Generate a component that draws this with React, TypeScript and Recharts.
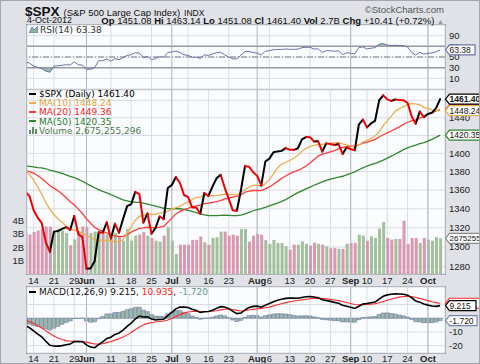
import React from "react";
import {
  Area,
  Bar,
  CartesianGrid,
  Cell,
  ComposedChart,
  Line,
  ReferenceLine,
  XAxis,
  YAxis,
} from "recharts";

// trading days shown, May 10 .. Oct 4 2012
const days = [
  "5/10", "5/11", "5/14", "5/15", "5/16", "5/17", "5/18", "5/21", "5/22", "5/23", "5/24", "5/25", "5/29", "5/30", "5/31",
  "6/1", "6/4", "6/5", "6/6", "6/7", "6/8", "6/11", "6/12", "6/13", "6/14", "6/15", "6/18", "6/19", "6/20", "6/21", "6/22", "6/25", "6/26", "6/27", "6/28", "6/29",
  "7/2", "7/3", "7/5", "7/6", "7/9", "7/10", "7/11", "7/12", "7/13", "7/16", "7/17", "7/18", "7/19", "7/20", "7/23", "7/24", "7/25", "7/26", "7/27", "7/30", "7/31",
  "8/1", "8/2", "8/3", "8/6", "8/7", "8/8", "8/9", "8/10", "8/13", "8/14", "8/15", "8/16", "8/17", "8/20", "8/21", "8/22", "8/23", "8/24", "8/27", "8/28", "8/29", "8/30", "8/31",
  "9/4", "9/5", "9/6", "9/7", "9/10", "9/11", "9/12", "9/13", "9/14", "9/17", "9/18", "9/19", "9/20", "9/21", "9/24", "9/25", "9/26", "9/27", "9/28",
  "10/1", "10/2", "10/3", "10/4",
];

const close = [
  1357.99, 1353.39, 1338.35, 1330.66, 1324.8, 1304.86, 1295.22, 1315.99, 1316.63, 1318.86, 1320.68, 1317.82, 1332.42, 1313.32, 1310.33,
  1278.04, 1278.18, 1285.5, 1315.13, 1314.99, 1325.66, 1308.93, 1324.18, 1314.88, 1329.1, 1342.84, 1344.78, 1357.98, 1355.69, 1325.51, 1335.02, 1313.72, 1319.99, 1331.85, 1329.04, 1362.16,
  1365.51, 1374.02, 1367.58, 1354.68, 1352.46, 1341.47, 1341.45, 1334.76, 1356.78, 1353.64, 1363.67, 1372.78, 1376.51, 1362.66, 1350.52, 1338.31, 1337.89, 1360.02, 1385.97, 1385.3, 1379.32,
  1375.32, 1365.0, 1390.99, 1394.23, 1401.35, 1402.22, 1402.8, 1405.87, 1404.11, 1403.93, 1405.53, 1415.51, 1418.16, 1418.13, 1413.17, 1413.49, 1402.08, 1411.13, 1410.44, 1409.3, 1410.49, 1399.48, 1406.58,
  1404.94, 1403.44, 1432.12, 1437.92, 1429.08, 1433.56, 1436.56, 1459.99, 1465.77, 1461.19, 1459.32, 1461.05, 1460.26, 1460.15, 1456.89, 1441.59, 1433.32, 1447.15, 1440.67,
  1444.49, 1445.75, 1450.99, 1461.4,
];

const ma10 = [
  1381.59, 1376.6, 1370.64, 1363.13, 1355.37, 1346.7, 1339.32, 1333.96, 1329.25, 1325.68, 1321.94, 1318.39, 1317.79, 1316.06, 1314.61,
  1311.93, 1310.23, 1307.18, 1307.03, 1306.64, 1307.14, 1306.25, 1305.43, 1305.58, 1307.46, 1313.94, 1320.6, 1327.85, 1331.9, 1332.96, 1333.89, 1334.37, 1333.95, 1335.65, 1335.64, 1337.57,
  1339.65, 1341.25, 1342.44, 1345.36, 1347.1, 1349.88, 1352.02, 1352.31, 1355.09, 1354.24, 1354.05, 1353.93, 1354.82, 1355.62, 1355.42, 1355.11, 1354.75, 1357.28, 1360.2, 1363.36, 1364.93,
  1365.18, 1364.03, 1366.86, 1371.24, 1377.54, 1383.97, 1388.25, 1390.24, 1392.12, 1394.58, 1397.6, 1402.65, 1405.37, 1407.76, 1408.94, 1410.07, 1410.0, 1410.52, 1411.16, 1411.69, 1412.19, 1410.59, 1409.43,
  1408.11, 1407.14, 1409.0, 1412.58, 1414.38, 1416.69, 1419.42, 1424.37, 1431.0, 1436.46, 1441.9, 1447.66, 1450.47, 1452.69, 1455.47, 1456.28, 1455.95, 1454.67, 1452.16,
  1450.49, 1449.13, 1448.13, 1448.24,
];

const ma20 = [
  1380.84, 1380.0, 1378.44, 1375.43, 1372.41, 1368.81, 1364.64, 1362.09, 1359.32, 1355.73, 1351.77, 1347.49, 1344.22, 1339.59, 1334.99,
  1329.32, 1324.77, 1320.57, 1318.14, 1316.16, 1314.54, 1312.32, 1311.61, 1310.82, 1311.04, 1312.94, 1315.41, 1317.51, 1319.47, 1319.8, 1320.52, 1320.31, 1319.69, 1320.62, 1321.55, 1325.76,
  1330.12, 1334.55, 1337.17, 1339.16, 1340.5, 1342.12, 1342.99, 1343.98, 1345.36, 1345.9, 1346.85, 1347.59, 1348.63, 1350.49, 1351.26, 1352.49, 1353.39, 1354.8, 1357.64, 1358.8, 1359.49,
  1359.55, 1359.43, 1361.24, 1363.33, 1366.32, 1369.36, 1372.76, 1375.22, 1377.74, 1379.76, 1381.39, 1383.34, 1386.12, 1389.5, 1393.24, 1397.02, 1399.12, 1400.38, 1401.64, 1403.14, 1404.9, 1406.62, 1407.4,
  1407.94, 1408.04, 1409.54, 1411.29, 1412.45, 1413.92, 1415.56, 1418.28, 1420.79, 1422.94, 1425.0, 1427.4, 1429.74, 1432.64, 1434.93, 1436.48, 1437.69, 1439.52, 1441.58,
  1443.47, 1445.51, 1447.89, 1449.36,
];

const ma50 = [
  1386.13, 1385.72, 1385.09, 1384.42, 1384.05, 1383.09, 1381.68, 1380.58, 1379.5, 1377.95, 1376.48, 1374.79, 1373.35, 1371.42, 1369.52,
  1367.02, 1364.73, 1362.5, 1360.47, 1358.52, 1356.92, 1355.04, 1353.35, 1351.27, 1349.58, 1348.46, 1347.39, 1346.91, 1346.85, 1345.99, 1344.94, 1343.81, 1342.82, 1341.64, 1340.52, 1340.23,
  1339.97, 1340.11, 1340.02, 1339.3, 1338.35, 1337.11, 1335.98, 1334.56, 1333.65, 1332.89, 1332.78, 1332.84, 1333.1, 1333.26, 1333.11, 1332.81, 1332.8, 1333.38, 1334.61, 1336.21, 1337.9,
  1339.08, 1340.05, 1341.49, 1342.97, 1344.64, 1346.03, 1347.82, 1349.73, 1352.25, 1354.77, 1357.17, 1359.18, 1361.24, 1363.09, 1365.17, 1366.96, 1368.7, 1370.35, 1371.7, 1372.99, 1374.04, 1374.91, 1376.53,
  1377.93, 1379.72, 1381.97, 1384.09, 1386.09, 1387.52, 1388.94, 1390.66, 1392.62, 1394.75, 1396.89, 1399.28, 1401.66, 1404.16, 1406.17, 1407.92, 1409.32, 1410.8, 1412.09,
  1413.72, 1415.63, 1417.88, 1420.35,
];

// volume in billions of shares
const volume = [
  3.06, 2.96, 3.14, 3.26, 3.38, 3.56, 3.56, 3.14, 3.33, 3.26, 3.08, 2.16, 2.6, 3.14, 3.56,
  3.56, 3.08, 3.18, 3.26, 3.18, 2.96, 2.88, 3.08, 2.88, 2.5, 3.38, 2.5, 2.88, 2.96, 3.14, 2.88, 2.7, 2.5, 2.43, 2.88, 3.51,
  2.5, 1.5, 2.2, 2.2, 2.2, 2.56, 2.56, 2.81, 2.38, 2.2, 2.7, 2.76, 3.18, 3.18, 2.88, 2.95, 2.88, 3.38, 3.38, 2.43, 2.88,
  3.0, 2.95, 2.56, 2.26, 2.56, 2.33, 2.33, 2.08, 1.83, 2.2, 2.2, 2.45, 2.26, 2.13, 2.35, 2.26, 2.2, 2.08, 1.93, 1.95, 1.88, 1.88, 2.26,
  2.33, 2.33, 2.95, 2.88, 2.5, 2.83, 2.7, 3.4, 3.9, 2.7, 2.58, 2.63, 2.63, 4.0, 2.26, 2.7, 2.7, 2.33, 2.7,
  2.58, 2.5, 2.76, 2.675,
];

const rsi = [
  40.5, 38.5, 33, 30.5, 28.5, 23.5, 21.5, 33, 33.5, 34.5, 35.5, 35, 41, 35.5, 35,
  27, 27.2, 30, 43, 43, 46.5, 42, 47, 45, 49, 53, 54, 58, 57.5, 48.5, 51, 45, 47, 50.5, 49.8, 58.5,
  59.3, 61, 58.5, 54, 53.3, 49.5, 49.5, 47.3, 54, 53, 55.5, 58, 59, 54, 50, 46.5, 46.5, 53.5, 60.5, 60.3, 58.5,
  57.2, 53.8, 61, 61.8, 63.8, 64, 64.2, 65, 64.4, 64.3, 64.8, 67.5, 68.2, 68.2, 65, 65.2, 58.5, 62, 61.6, 60.9, 61.5, 54.5, 58,
  57, 56, 67.5, 69, 65, 66.5, 67.5, 74, 75.2, 72.5, 71.5, 72, 71.5, 71.3, 69, 58, 53.5, 59, 55.5,
  57, 57.6, 59.8, 63.38,
];

const macd = [
  -5.5, -6.97, -9.25, -11.54, -13.67, -16.77, -19.78, -20.26, -20.35, -20.01, -19.37, -18.88, -17.11, -17.06, -17.06,
  -19.44, -21.08, -21.53, -19.28, -17.3, -14.71, -13.85, -11.8, -10.79, -8.75, -5.96, -3.55, -0.56, 1.6, 0.87, 1.04, -0.54, -1.27, -0.88, -0.79, 1.93,
  4.31, 6.81, 8.17, 8.11, 7.8, 6.59, 5.57, 4.16, 4.78, 4.96, 5.83, 7.18, 8.45, 8.25, 7.03, 5.01, 3.35, 3.77, 6.13, 7.85, 8.64,
  8.84, 8.07, 9.45, 10.68, 12.08, 13.12, 13.83, 14.48, 14.68, 14.65, 14.59, 15.17, 15.66, 15.87, 15.46, 14.98, 13.53, 12.96, 12.31, 11.57, 10.95, 9.47, 8.76,
  7.98, 7.16, 8.72, 10.3, 10.72, 11.28, 11.84, 14.01, 16.01, 17.03, 17.49, 17.78, 17.74, 17.51, 16.86, 14.94, 12.6, 11.74, 10.41,
  9.55, 8.87, 8.65, 9.215,
];

const signal = [
  -1.5, -2.59, -3.92, -5.45, -7.09, -9.03, -11.18, -13.0, -14.47, -15.58, -16.34, -16.85, -16.9, -16.93, -16.96,
  -17.46, -18.18, -18.85, -18.94, -18.61, -17.83, -17.03, -15.99, -14.95, -13.71, -12.16, -10.44, -8.46, -6.45, -4.99, -3.78, -3.13, -2.76, -2.38, -2.06, -1.26,
  -0.15, 1.24, 2.63, 3.72, 4.54, 4.95, 5.07, 4.89, 4.87, 4.89, 5.08, 5.5, 6.09, 6.52, 6.62, 6.3, 5.71, 5.32, 5.48, 5.95, 6.49,
  6.96, 7.18, 7.63, 8.24, 9.01, 9.83, 10.63, 11.4, 12.06, 12.58, 12.98, 13.42, 13.87, 14.27, 14.51, 14.6, 14.39, 14.1, 13.74, 13.31, 12.84, 12.17, 11.49,
  10.79, 10.06, 9.79, 9.89, 10.06, 10.3, 10.61, 11.29, 12.23, 13.19, 14.05, 14.8, 15.39, 15.81, 16.02, 15.8, 15.16, 14.48, 13.67,
  12.85, 12.05, 11.37, 10.935,
];

const hist = [
  -4.0, -4.38, -5.33, -6.09, -6.58, -7.74, -8.6, -7.26, -5.88, -4.43, -3.03, -2.03, -0.21, -0.13, -0.1,
  -1.98, -2.9, -2.68, -0.34, 1.31, 3.12, 3.18, 4.19, 4.16, 4.96, 6.2, 6.89, 7.9, 8.05, 5.86, 4.82, 2.59, 1.49, 1.5, 1.27, 3.19,
  4.46, 5.57, 5.54, 4.39, 3.26, 1.64, 0.5, -0.73, -0.09, 0.07, 0.75, 1.68, 2.36, 1.73, 0.41, -1.29, -2.36, -1.55, 0.65, 1.9, 2.15,
  1.88, 0.89, 1.82, 2.44, 3.07, 3.29, 3.2, 3.08, 2.62, 2.07, 1.61, 1.75, 1.79, 1.6, 0.95, 0.38, -0.86, -1.14, -1.43, -1.74, -1.89, -2.7, -2.73,
  -2.81, -2.9, -1.07, 0.41, 0.66, 0.98, 1.23, 2.72, 3.78, 3.84, 3.44, 2.98, 2.35, 1.7, 0.84, -0.86, -2.56, -2.74, -3.26,
  -3.3, -3.18, -2.72, -1.72,
];

const tickDays = ["5/14", "5/21", "5/29", "6/1", "6/11", "6/18", "6/25", "7/2", "7/9", "7/16", "7/23", "8/1", "8/6", "8/13", "8/20", "8/27", "9/4", "9/10", "9/17", "9/24", "10/1"];
const tickText = ["14", "21", "29", "Jun", "11", "18", "25", "Jul", "9", "16", "23", "Aug", "6", "13", "20", "27", "Sep", "10", "17", "24", "Oct"];
const priceTicks = [1280, 1300, 1320, 1340, 1360, 1380, 1400, 1420, 1440, 1460];
const volTicks = [1, 2, 3, 4];
const rsiTicks = [10, 30, 50, 70, 90];
const macdTicks = [-20, -10, 0, 10];

const FONT = "'Liberation Sans', Arial, sans-serif";
const LFONT = "'DejaVu Sans', Verdana, sans-serif";
const FRAME = "#e0e2e7";
const PLOT_BG = "#fbfcfd";
const BORDER = "#8c8f97";
const GRID = "#d9dce2";
const MONTH = "#b3b7c0";
const UP = "#000000";
const DOWN = "#ee0000";
const MA10C = "#e8b050";
const MA20C = "#ff3a3a";
const MA50C = "#2f862f";
const VOL_UP = "#a2c09c";
const VOL_DN = "#d998b0";
const RSI_C = "#6a72a8";
const HIST_C = "#9db8aa";

const X_DOMAIN = [0.37, 103.2];
const PRICE_DOMAIN = [1272.6, 1472];
const VOL_DOMAIN = [0, 13.8];
const RSI_DOMAIN = [-10, 110];
const MACD_DOMAIN = [-25.4, 22.8];

const tickIdx = tickDays.map((d) => days.indexOf(d));
const monthIdx = tickIdx.filter((_, k) => /[A-Za-z]/.test(tickText[k]));
const isUp = close.map((c, i) => i > 0 && c >= close[i - 1]);

// split the close line into up / down runs, alternating between two series
// per colour so that neighbouring runs never get joined
function splitRuns(vals: number[]) {
  const out: Record<string, (number | null)[]> = {
    upA: vals.map(() => null),
    upB: vals.map(() => null),
    dnA: vals.map(() => null),
    dnB: vals.map(() => null),
  };
  const count: Record<string, number> = { up: 0, dn: 0 };
  let start = 0;
  let dir = vals[1] >= vals[0] ? "up" : "dn";
  for (let i = 2; i <= vals.length; i++) {
    const d = i < vals.length ? (vals[i] >= vals[i - 1] ? "up" : "dn") : "end";
    if (d !== dir) {
      const key = dir + (count[dir] % 2 ? "B" : "A");
      count[dir]++;
      for (let j = start; j <= i - 1; j++) out[key][j] = vals[j];
      start = i - 1;
      dir = d;
    }
  }
  return out;
}

const runs = splitRuns(close);

const rows = days.map((d, i) => ({
  i,
  day: d,
  close: close[i],
  upA: runs.upA[i],
  upB: runs.upB[i],
  dnA: runs.dnA[i],
  dnB: runs.dnB[i],
  ma10: ma10[i],
  ma20: ma20[i],
  ma50: ma50[i],
  vol: volume[i],
  rsi: rsi[i],
  // overbought / oversold shading bands
  rsiHi: [70, Math.max(rsi[i], 70)],
  rsiLo: [Math.min(rsi[i], 30), 30],
  macd: macd[i],
  signal: signal[i],
  hist: hist[i],
}));

const last = rows.length - 1;

function DateTick(props: any) {
  const { x, y, payload } = props;
  const k = tickIdx.indexOf(payload.value);
  const label = tickText[k] ?? "";
  const bold = /[A-Za-z]/.test(label);
  return (
    <text x={x} y={y} dy={8} textAnchor="middle" fontSize={9.5} fontWeight={bold ? 700 : 400} fill="#222" fontFamily={FONT}>
      {label}
    </text>
  );
}

function Tag(props: any) {
  const { viewBox, text, color, w = 35, bold = false, size = 8.5 } = props;
  if (!viewBox) return null;
  const x = viewBox.x + (viewBox.width || 0);
  const y = viewBox.y;
  return (
    <g>
      <path
        d={`M${x + 0.5},${y} L${x + 4.5},${y - 5} L${x + w},${y - 5} L${x + w},${y + 5} L${x + 4.5},${y + 5} Z`}
        fill="#fff"
        stroke={color}
        strokeWidth={1.2}
      />
      <text x={x + 4.5} y={y + 3.1} fontSize={size} fontWeight={bold ? 700 : 400} fill="#111" fontFamily={FONT}>
        {text}
      </text>
    </g>
  );
}

const axisTick = { fontSize: 9.5, fill: "#222", fontFamily: FONT };
const layer: React.CSSProperties = { position: "absolute", left: 0, top: 0, pointerEvents: "none" };

function Box({ top, height }: { top: number; height: number }) {
  return (
    <div
      style={{
        position: "absolute",
        left: 25,
        top,
        width: 420,
        height,
        boxSizing: "border-box",
        border: `1px solid ${BORDER}`,
        background: PLOT_BG,
      }}
    />
  );
}

function Dash({ color }: { color: string }) {
  return (
    <span
      style={{
        display: "inline-block",
        width: 7,
        height: 2,
        background: color,
        verticalAlign: "middle",
        marginRight: 3,
        marginTop: -2,
      }}
    />
  );
}

type TagDef = { axis: string; y: number; text: string; color: string; w?: number; bold?: boolean; size?: number };
type AxisDef = { id: string; domain: number[]; scale?: "log" | "linear" };

// value tags drawn in their own layer so they sit above the tick labels
function TagLayer({ top, bottom, axes, tags }: { top: number; bottom: number; axes: AxisDef[]; tags: TagDef[] }) {
  return (
    <div style={layer}>
      <ComposedChart width={480} height={364} data={rows} margin={{ top, right: 36, bottom, left: 26 }}>
        <XAxis dataKey="i" type="number" domain={X_DOMAIN} allowDataOverflow hide />
        {axes.map((a) => (
          <YAxis key={a.id} yAxisId={a.id} domain={a.domain} scale={a.scale ?? "linear"} allowDataOverflow hide />
        ))}
        {tags.map((t) => (
          <ReferenceLine
            key={t.text}
            yAxisId={t.axis}
            y={t.y}
            stroke="none"
            label={<Tag text={t.text} color={t.color} w={t.w} bold={t.bold} size={t.size} />}
          />
        ))}
      </ComposedChart>
    </div>
  );
}

function RsiChart() {
  return (
    <div style={layer}>
      <ComposedChart width={480} height={364} data={rows} margin={{ top: 24, right: 0, bottom: 276, left: 26 }}>
        <CartesianGrid stroke={GRID} />
        <XAxis dataKey="i" type="number" domain={X_DOMAIN} allowDataOverflow ticks={tickIdx} hide />
        <YAxis
          orientation="right"
          domain={RSI_DOMAIN}
          ticks={rsiTicks}
          interval={0}
          width={36}
          tickSize={0}
          tickMargin={4}
          axisLine={false}
          tickLine={false}
          tick={axisTick}
          allowDataOverflow
        />
        {monthIdx.map((m) => (
          <ReferenceLine key={m} x={m} stroke={MONTH} />
        ))}
        <ReferenceLine y={70} stroke="#9a9ca4" strokeWidth={1.5} />
        <ReferenceLine y={30} stroke="#9a9ca4" strokeWidth={1.5} />
        <ReferenceLine y={50} stroke="#7d7f88" strokeDasharray="6 2 1 2" />
        <Area dataKey="rsiHi" stroke="none" fill="#7fae8c" fillOpacity={0.8} isAnimationActive={false} />
        <Area dataKey="rsiLo" stroke="none" fill="#7fae8c" fillOpacity={0.8} isAnimationActive={false} />
        <Line dataKey="rsi" stroke={RSI_C} strokeWidth={1} dot={false} isAnimationActive={false} />
      </ComposedChart>
    </div>
  );
}

function PriceChart() {
  return (
    <div style={layer}>
      <ComposedChart width={480} height={364} data={rows} margin={{ top: 89, right: 0, bottom: 79, left: 0 }}>
        <CartesianGrid yAxisId="price" stroke={GRID} />
        <XAxis
          dataKey="i"
          type="number"
          domain={X_DOMAIN}
          allowDataOverflow
          ticks={tickIdx}
          interval={0}
          height={12}
          tickSize={0}
          tickMargin={2}
          axisLine={false}
          tickLine={false}
          tick={<DateTick />}
        />
        <YAxis
          yAxisId="price"
          orientation="right"
          scale="log"
          domain={PRICE_DOMAIN}
          allowDataOverflow
          ticks={priceTicks}
          interval={0}
          width={36}
          tickSize={0}
          tickMargin={4}
          axisLine={false}
          tickLine={false}
          tick={axisTick}
        />
        <YAxis
          yAxisId="vol"
          orientation="left"
          domain={VOL_DOMAIN}
          allowDataOverflow
          ticks={volTicks}
          interval={0}
          tickFormatter={(v) => `${v}B`}
          width={26}
          tickSize={0}
          tickMargin={3}
          axisLine={false}
          tickLine={false}
          tick={axisTick}
        />
        {monthIdx.map((m) => (
          <ReferenceLine key={m} yAxisId="price" x={m} stroke={MONTH} />
        ))}
        <Bar yAxisId="vol" dataKey="vol" barSize={3} isAnimationActive={false}>
          {rows.map((r) => (
            <Cell key={r.i} fill={isUp[r.i] ? VOL_UP : VOL_DN} />
          ))}
        </Bar>
        <Line yAxisId="price" dataKey="ma50" stroke={MA50C} strokeWidth={1.3} dot={false} isAnimationActive={false} />
        <Line yAxisId="price" dataKey="ma20" stroke={MA20C} strokeWidth={1.3} dot={false} isAnimationActive={false} />
        <Line yAxisId="price" dataKey="ma10" stroke={MA10C} strokeWidth={1.3} dot={false} isAnimationActive={false} />
        {["upA", "upB", "dnA", "dnB"].map((k) => (
          <Line
            key={k}
            yAxisId="price"
            dataKey={k}
            stroke={k.startsWith("up") ? UP : DOWN}
            strokeWidth={2}
            strokeLinecap="round"
            strokeLinejoin="round"
            dot={false}
            connectNulls={false}
            isAnimationActive={false}
          />
        ))}
      </ComposedChart>
    </div>
  );
}

function MacdChart() {
  return (
    <div style={layer}>
      <ComposedChart width={480} height={364} data={rows} margin={{ top: 286, right: 0, bottom: 0, left: 26 }}>
        <CartesianGrid stroke={GRID} />
        <XAxis
          dataKey="i"
          type="number"
          domain={X_DOMAIN}
          allowDataOverflow
          ticks={tickIdx}
          interval={0}
          height={12}
          tickSize={0}
          tickMargin={1}
          axisLine={false}
          tickLine={false}
          tick={<DateTick />}
        />
        <YAxis
          orientation="right"
          domain={MACD_DOMAIN}
          allowDataOverflow
          ticks={macdTicks}
          interval={0}
          width={36}
          tickSize={0}
          tickMargin={4}
          axisLine={false}
          tickLine={false}
          tick={axisTick}
        />
        {monthIdx.map((m) => (
          <ReferenceLine key={m} x={m} stroke={MONTH} />
        ))}
        <Bar dataKey="hist" barSize={4} fill={HIST_C} stroke="#6d78ab" strokeWidth={0.6} isAnimationActive={false} />
        <Line dataKey="signal" stroke="#ff2a2a" strokeWidth={1.1} dot={false} isAnimationActive={false} />
        <Line dataKey="macd" stroke="#000" strokeWidth={1.6} dot={false} isAnimationActive={false} />
      </ComposedChart>
    </div>
  );
}

export default function App() {
  return (
    <div
      style={{
        position: "absolute",
        left: 0,
        top: 0,
        width: 480,
        height: 364,
        background: FRAME,
        overflow: "hidden",
        boxSizing: "border-box",
        border: "1px solid #a4a7ae",
        fontFamily: FONT,
      }}
    >
      <Box top={23} height={66} />
      <Box top={88} height={186} />
      <Box top={285} height={68} />

      <RsiChart />
      <PriceChart />
      <MacdChart />

      <TagLayer
        top={24}
        bottom={276}
        axes={[{ id: "rsi", domain: RSI_DOMAIN }]}
        tags={[{ axis: "rsi", y: rsi[last], text: "63.38", color: RSI_C, w: 30 }]}
      />
      <TagLayer
        top={89}
        bottom={91}
        axes={[
          { id: "price", domain: PRICE_DOMAIN, scale: "log" },
          { id: "vol", domain: VOL_DOMAIN },
        ]}
        tags={[
          { axis: "vol", y: volume[last], text: "2675255", color: "#8a8a8a", w: 36, size: 8 },
          { axis: "price", y: ma50[last], text: "1420.35", color: MA50C },
          { axis: "price", y: ma20[last], text: "1449.36", color: MA20C },
          { axis: "price", y: ma10[last], text: "1448.24", color: MA10C },
          { axis: "price", y: close[last], text: "1461.40", color: "#000", bold: true },
        ]}
      />
      <TagLayer
        top={286}
        bottom={12}
        axes={[{ id: "macd", domain: MACD_DOMAIN }]}
        tags={[
          { axis: "macd", y: signal[last], text: "10.935", color: "#ff2a2a", w: 35 },
          { axis: "macd", y: macd[last], text: "9.215", color: "#000", w: 31 },
          { axis: "macd", y: hist[last], text: "-1.720", color: "#7a84b8", w: 32 },
        ]}
      />

      {/* header */}
      <div style={{ position: "absolute", left: 24, top: 1, whiteSpace: "nowrap", color: "#111" }}>
        <span style={{ fontSize: 13.5, fontWeight: 700 }}>$SPX</span>
        <span style={{ fontSize: 9.5, marginLeft: 4 }}>(S&amp;P 500 Large Cap Index)</span>
        <span style={{ fontSize: 8.5, marginLeft: 4 }}>INDX</span>
      </div>
      <div style={{ position: "absolute", right: 35, top: 3, fontSize: 9.5, color: "#555", whiteSpace: "nowrap" }}>
        ©StockCharts.com
      </div>
      <div style={{ position: "absolute", left: 26, top: 14, fontSize: 9, color: "#111", whiteSpace: "nowrap" }}>
        4-Oct-2012
      </div>
      <div style={{ position: "absolute", right: 35, top: 14, fontSize: 9.5, color: "#111", whiteSpace: "nowrap" }}>
        <b>Op</b> 1451.08 <b>Hi</b> 1463.14 <b>Lo</b> 1451.08 <b>Cl</b> 1461.40 <b>Vol</b> 2.7B <b>Chg</b> +10.41 (+0.72%){" "}
        <span style={{ color: "#8a9aa0", fontSize: 7 }}>▲</span>
      </div>

      {/* RSI legend */}
      <div style={{ position: "absolute", left: 28, top: 24, fontSize: 9, fontFamily: LFONT, color: "#333", whiteSpace: "nowrap" }}>
        <svg width={9} height={7} style={{ marginRight: 2 }}>
          <path d="M0,7 L3,1 L5,4 L9,0 L9,7 Z" fill="#8fb39a" stroke={RSI_C} strokeWidth={0.8} />
        </svg>
        RSI(14) 63.38
      </div>

      {/* price legend */}
      <div
        style={{
          position: "absolute",
          left: 28,
          top: 89,
          fontSize: 9,
          lineHeight: "9.2px",
          fontFamily: LFONT,
          whiteSpace: "nowrap",
        }}
      >
        <div style={{ color: "#000" }}>
          <Dash color={UP} />$SPX (Daily) 1461.40
        </div>
        <div style={{ color: "#e0a53a" }}>
          <Dash color={MA10C} />MA(10) 1448.24
        </div>
        <div style={{ color: "#ff2020" }}>
          <Dash color={MA20C} />MA(20) 1449.36
        </div>
        <div style={{ color: "#2a7a2a" }}>
          <Dash color={MA50C} />MA(50) 1420.35
        </div>
        <div style={{ color: "#4f7a4f" }}>
          <svg width={8} height={7} style={{ marginRight: 2 }}>
            <rect x={0} y={3} width={2} height={4} fill="#5f8f5f" />
            <rect x={3} y={0} width={2} height={7} fill="#5f8f5f" />
            <rect x={6} y={2} width={2} height={5} fill="#5f8f5f" />
          </svg>
          Volume 2,675,255,296
        </div>
      </div>

      {/* MACD legend */}
      <div style={{ position: "absolute", left: 28, top: 286, fontSize: 9, fontFamily: LFONT, whiteSpace: "nowrap", color: "#111" }}>
        <Dash color="#000" />MACD(12,26,9) 9.215, <span style={{ color: "#ff2020" }}>10.935</span>,{" "}
        <span style={{ color: "#5f9a8a" }}>-1.720</span>
      </div>
    </div>
  );
}
